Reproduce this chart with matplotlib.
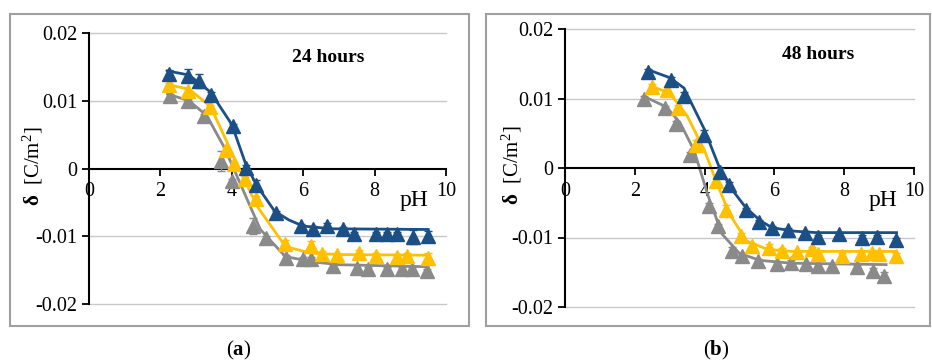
import matplotlib.pyplot as plt
from matplotlib.patches import Rectangle

plt.rcParams['font.family'] = ['Liberation Serif', 'DejaVu Serif']
plt.rcParams['mathtext.fontset'] = 'custom'
plt.rcParams['mathtext.rm'] = 'Liberation Serif'
plt.rcParams['mathtext.bf'] = 'Liberation Serif:bold'
plt.rcParams['mathtext.it'] = 'Liberation Serif:italic'

BLUE = '#1c4f86'
YELLOW = '#ffc000'
GRAY = '#8a8a8a'

# ---- panel (a): 24 hours ----
a_blue_ph = [2.23, 2.78, 3.08, 3.43, 4.04, 4.39, 4.69, 5.23, 5.95, 6.28, 6.67, 7.12, 7.43, 8.03, 8.34, 8.62, 9.08, 9.50]
a_blue_d = [0.0139, 0.0137, 0.0129, 0.0109, 0.0062, 0.0001, -0.0025, -0.0066, -0.0085, -0.0089, -0.0085, -0.0089, -0.0097, -0.0097, -0.0097, -0.0097, -0.0101, -0.0100]
a_blue_err = [0.0006, 0.0010, 0.0010, 0.0004, 0.0004, 0.0004, 0.0008, 0.0003, 0.0003, 0.0004, 0.0004, 0.0003, 0.0003, 0.0003, 0.0003, 0.0003, 0.0010, 0.0008]

a_yel_ph = [2.24, 2.78, 3.40, 3.85, 4.06, 4.36, 4.67, 5.50, 6.23, 6.54, 6.96, 7.57, 8.03, 8.62, 8.92, 9.49]
a_yel_d = [0.0123, 0.0114, 0.0091, 0.0028, 0.0006, -0.0016, -0.0045, -0.0111, -0.0115, -0.0126, -0.0127, -0.0125, -0.0129, -0.0130, -0.0129, -0.0132]
a_yel_err = [0.0003, 0.0003, 0.0003, 0.0004, 0.0003, 0.0003, 0.0004, 0.0005, 0.0008, 0.0004, 0.0003, 0.0005, 0.0004, 0.0003, 0.0004, 0.0007]

a_gry_ph = [2.26, 2.76, 3.22, 3.69, 4.01, 4.60, 4.97, 5.51, 6.00, 6.23, 6.84, 7.50, 7.82, 8.34, 8.76, 9.04, 9.46]
a_gry_d = [0.0107, 0.0100, 0.0077, 0.0011, -0.0019, -0.0085, -0.0102, -0.0132, -0.0133, -0.0133, -0.0144, -0.0147, -0.0149, -0.0149, -0.0148, -0.0149, -0.0152]
a_gry_err = [0.0003, 0.0003, 0.0003, 0.0015, 0.0004, 0.0012, 0.0003, 0.0004, 0.0003, 0.0003, 0.0003, 0.0004, 0.0003, 0.0004, 0.0003, 0.0004, 0.0004]

# fitted curves
a_blue_fit_ph = [2.2, 2.8, 3.4, 4.0, 4.4, 4.7, 5.2, 5.6, 6.0, 6.8, 9.5]
a_blue_fit_d = [0.0144, 0.0138, 0.0113, 0.0065, 0.0005, -0.0025, -0.0063, -0.0076, -0.0085, -0.0089, -0.0090]
a_yel_fit_ph = [2.2, 2.8, 3.4, 3.9, 4.3, 4.7, 5.5, 6.2, 7.0, 9.5]
a_yel_fit_d = [0.0124, 0.0117, 0.0092, 0.0035, -0.0010, -0.0055, -0.0115, -0.0125, -0.0127, -0.0128]
a_gry_fit_ph = [2.2, 2.8, 3.3, 3.8, 4.3, 4.8, 5.5, 6.3, 7.0, 9.5]
a_gry_fit_d = [0.0110, 0.0100, 0.0078, 0.0030, -0.0030, -0.0090, -0.0130, -0.0138, -0.0142, -0.0145]

# ---- panel (b): 48 hours ----
b_blue_ph = [2.39, 3.03, 3.41, 3.98, 4.43, 4.70, 5.18, 5.56, 5.94, 6.40, 6.88, 7.26, 7.85, 8.52, 8.95, 9.47]
b_blue_d = [0.0138, 0.0127, 0.0103, 0.0048, -0.0006, -0.0024, -0.0060, -0.0078, -0.0087, -0.0089, -0.0093, -0.0099, -0.0095, -0.0100, -0.0099, -0.0103]
b_blue_err = [0.0005, 0.0004, 0.0006, 0.0006, 0.0006, 0.0004, 0.0003, 0.0003, 0.0004, 0.0003, 0.0003, 0.0003, 0.0003, 0.0003, 0.0003, 0.0003]

b_yel_ph = [2.50, 2.93, 3.25, 3.74, 4.32, 4.60, 5.03, 5.37, 5.85, 6.21, 6.66, 7.09, 7.26, 7.93, 8.47, 8.81, 9.00, 9.47]
b_yel_d = [0.0116, 0.0112, 0.0086, 0.0033, -0.0019, -0.0060, -0.0098, -0.0112, -0.0115, -0.0119, -0.0121, -0.0117, -0.0124, -0.0126, -0.0124, -0.0122, -0.0124, -0.0126]
b_yel_err = [0.0005, 0.0004, 0.0004, 0.0008, 0.0004, 0.0007, 0.0004, 0.0004, 0.0005, 0.0004, 0.0003, 0.0003, 0.0003, 0.0003, 0.0004, 0.0004, 0.0003, 0.0003]

b_gry_ph = [2.26, 2.87, 3.17, 3.57, 4.13, 4.38, 4.79, 5.08, 5.54, 6.08, 6.47, 6.90, 7.26, 7.66, 8.38, 8.83, 9.14]
b_gry_d = [0.0100, 0.0086, 0.0064, 0.0019, -0.0055, -0.0084, -0.0119, -0.0126, -0.0134, -0.0138, -0.0136, -0.0138, -0.0141, -0.0141, -0.0143, -0.0148, -0.0155]
b_gry_err = [0.0004, 0.0003, 0.0004, 0.0004, 0.0004, 0.0004, 0.0005, 0.0004, 0.0003, 0.0003, 0.0003, 0.0003, 0.0003, 0.0003, 0.0003, 0.0004, 0.0006]

b_blue_fit_ph = [2.4, 3.0, 3.41, 3.98, 4.43, 4.8, 5.18, 5.6, 5.94, 6.6, 7.2, 9.5]
b_blue_fit_d = [0.0141, 0.0130, 0.0115, 0.0057, 0.0000, -0.0032, -0.0057, -0.0076, -0.0086, -0.0091, -0.0093, -0.0093]
b_yel_fit_ph = [2.45, 3.0, 3.5, 4.0, 4.3, 4.7, 5.2, 5.8, 6.5, 9.5]
b_yel_fit_d = [0.0118, 0.0108, 0.0075, 0.0025, -0.0015, -0.0065, -0.0105, -0.0117, -0.0120, -0.0120]
b_gry_fit_ph = [2.26, 2.9, 3.3, 3.7, 4.1, 4.5, 5.0, 5.6, 6.5, 9.2]
b_gry_fit_d = [0.0103, 0.0088, 0.0065, 0.0025, -0.0040, -0.0095, -0.0123, -0.0133, -0.0137, -0.0139]

x_ticks = [0, 2, 4, 6, 8, 10]
y_ticks = [-0.02, -0.01, 0, 0.01, 0.02]
y_labels = ['-0.02', '-0.01', '0', '0.01', '0.02']

fig = plt.figure(figsize=(9.32, 3.6), dpi=100)

# panel frames (pixel coords -> figure fraction)
W, H = 932, 360
for x0, x1 in [(10, 469), (486, 930)]:
    fig.patches.append(Rectangle((x0 / W, 1 - 326 / H), (x1 - x0) / W, (326 - 14) / H,
                                 transform=fig.transFigure, fill=False,
                                 edgecolor='#a0a0a0', linewidth=1.5))

ax_a = fig.add_axes([89 / W, 1 - 304 / H, 357 / W, 271 / H])
ax_b = fig.add_axes([565 / W, 1 - 307 / H, 349 / W, 278 / H])

panels = [
    (ax_a, '24 hours', 6.7, '(a)', 239, -0.123,
     [(a_gry_ph, a_gry_d, a_gry_err, a_gry_fit_ph, a_gry_fit_d, GRAY),
      (a_yel_ph, a_yel_d, a_yel_err, a_yel_fit_ph, a_yel_fit_d, YELLOW),
      (a_blue_ph, a_blue_d, a_blue_err, a_blue_fit_ph, a_blue_fit_d, BLUE)]),
    (ax_b, '48 hours', 7.25, '(b)', 716, -0.118,
     [(b_gry_ph, b_gry_d, b_gry_err, b_gry_fit_ph, b_gry_fit_d, GRAY),
      (b_yel_ph, b_yel_d, b_yel_err, b_yel_fit_ph, b_yel_fit_d, YELLOW),
      (b_blue_ph, b_blue_d, b_blue_err, b_blue_fit_ph, b_blue_fit_d, BLUE)]),
]

for ax, title, title_x, cap, cap_x, label_x, series in panels:
    ax.set_xlim(0, 10)
    ax.set_ylim(-0.02, 0.02)
    ax.patch.set_alpha(0)
    for y in [-0.02, -0.01, 0.01, 0.02]:
        ax.axhline(y, color='#c8c8c8', linewidth=1.0, zorder=0, clip_on=False)
    for ph, d, err, fph, fd, col in series:
        ax.plot(fph, fd, color=col, linewidth=2.0, zorder=2)
        ax.errorbar(ph, d, yerr=err, fmt='^', color=col, markersize=10,
                    elinewidth=1.0, capsize=3, capthick=1.0, zorder=3)
    ax.spines['top'].set_visible(False)
    ax.spines['right'].set_visible(False)
    ax.spines['bottom'].set_position(('data', 0))
    ax.spines['left'].set_linewidth(1.5)
    ax.spines['bottom'].set_linewidth(1.5)
    ax.set_xticks(x_ticks)
    ax.set_yticks(y_ticks)
    ax.set_yticklabels(y_labels)
    ax.tick_params(axis='both', direction='out', length=5, width=1.3, labelsize=14.5, colors='black')
    ax.tick_params(axis='x', pad=5)
    ax.text(9.1, -0.0047, 'pH', fontsize=17, ha='center', va='center')
    ax.text(title_x, 0.0164, title, fontsize=14, fontweight='bold', ha='center', va='center')
    ax.set_ylabel(r'$\mathbf{\delta}$  [C/m$^2$]', fontsize=15)
    ax.yaxis.set_label_coords(label_x, 0.51)
    fig.text(cap_x / W, 1 - 350 / H, '(' + r'$\mathbf{' + cap[1] + '}$' + ')',
             fontsize=15, ha='center', va='center')

fig.savefig('out.png', dpi=100)
